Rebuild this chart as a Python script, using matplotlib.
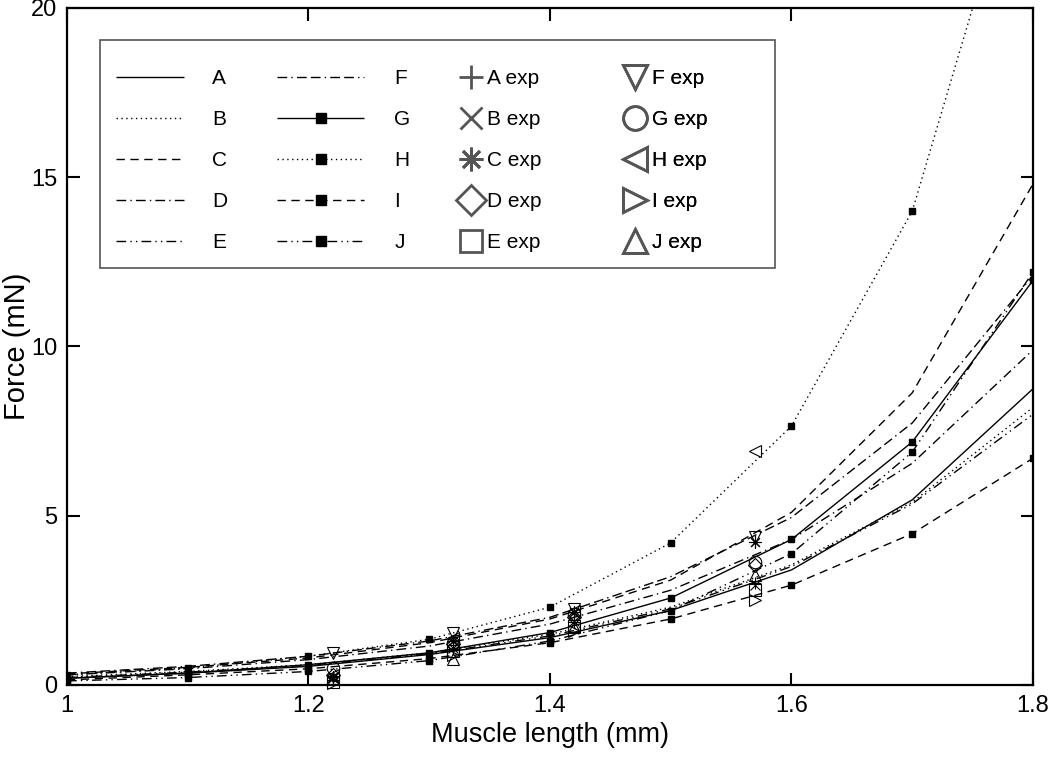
import matplotlib
matplotlib.use("Agg")
import matplotlib.pyplot as plt
from matplotlib.lines import Line2D
from matplotlib.patches import Rectangle

plt.rcParams['font.family'] = ['Liberation Sans', 'DejaVu Sans']

# ---- data ----
x_model = [1.0, 1.1, 1.2, 1.3, 1.4, 1.5, 1.6, 1.7, 1.8]
A = [0.20, 0.35, 0.55, 0.90, 1.40, 2.20, 3.40, 5.47, 8.75]
B = [0.25, 0.40, 0.60, 0.95, 1.50, 2.30, 3.55, 5.40, 8.20]
C = [0.33, 0.52, 0.80, 1.25, 1.95, 3.10, 5.10, 8.63, 14.80]
D = [0.30, 0.48, 0.75, 1.15, 1.80, 2.80, 4.30, 6.55, 9.90]
E = [0.22, 0.38, 0.58, 0.92, 1.45, 2.25, 3.50, 5.35, 8.00]
F = [0.35, 0.55, 0.85, 1.30, 2.00, 3.20, 4.95, 7.74, 12.10]
G = [0.20, 0.35, 0.60, 0.95, 1.55, 2.57, 4.30, 7.18, 11.95]
H = [0.30, 0.50, 0.85, 1.35, 2.30, 4.20, 7.65, 14.00, 26.00]
I = [0.15, 0.30, 0.48, 0.78, 1.25, 1.95, 2.95, 4.47, 6.70]
J = [0.12, 0.22, 0.40, 0.72, 1.30, 2.20, 3.88, 6.88, 12.20]

x_exp = [1.22, 1.32, 1.42, 1.57]
A_exp = [0.15, 1.05, 1.85, 3.00]
B_exp = [0.20, 1.10, 1.90, 2.95]
C_exp = [0.25, 1.30, 2.15, 4.22]
D_exp = [0.30, 1.20, 2.00, 3.55]
E_exp = [0.10, 1.00, 1.75, 2.80]
F_exp = [0.95, 1.55, 2.25, 4.37]
G_exp = [0.50, 1.25, 2.10, 3.63]
H_exp = [0.30, 1.40, 2.20, 6.90]
I_exp = [0.05, 0.90, 1.60, 2.50]
J_exp = [0.20, 0.78, 1.70, 3.25]

model_names = ['A', 'B', 'C', 'D', 'E', 'F', 'G', 'H', 'I', 'J']
model_data = [A, B, C, D, E, F, G, H, I, J]
exp_names = ['A exp', 'B exp', 'C exp', 'D exp', 'E exp',
             'F exp', 'G exp', 'H exp', 'I exp', 'J exp']
exp_data = [A_exp, B_exp, C_exp, D_exp, E_exp, F_exp, G_exp, H_exp, I_exp, J_exp]

x_ticks = [1.0, 1.2, 1.4, 1.6, 1.8]
x_ticklabels = ['1', '1.2', '1.4', '1.6', '1.8']
y_ticks = [0, 5, 10, 15, 20]
y_ticklabels = ['0', '5', '10', '15', '20']

# ---- styles ----
solid = (0, ())
dotted = (0, (1, 2.5))
dashed = (0, (6, 4))
dashdot = (0, (7, 3, 1, 3))
dashdotdot = (0, (7, 3, 1, 3, 1, 3))
dashdashdot = (0, (7, 3, 1, 3, 7, 3))
line_styles = [solid, dotted, dashed, dashdot, dashdotdot, dashdashdot,
               solid, dotted, dashed, dashdotdot]
has_marker = [False] * 6 + [True] * 4
asterisk = (8, 2, 0)
exp_markers = ['+', 'x', asterisk, 'D', 's', 'v', 'o', '<', '>', '^']
exp_sizes = [9, 7, 9, 7, 8, 9, 9, 9, 9, 9]

fig = plt.figure(figsize=(10.5, 7.6), dpi=100)
ax = fig.add_axes([0.0638, 0.0987, 0.92, 0.8908])

for name, data, ls, mk in zip(model_names, model_data, line_styles, has_marker):
    ax.plot(x_model, data, color='black', lw=1.0, linestyle=ls,
            marker='s' if mk else None, markersize=4.5, markerfacecolor='black',
            markeredgecolor='black')

for name, data, m, s in zip(exp_names, exp_data, exp_markers, exp_sizes):
    ax.plot(x_exp, data, linestyle='none', marker=m, markersize=s,
            markerfacecolor='none', markeredgecolor='black',
            markeredgewidth=0.8, clip_on=False, zorder=3)

ax.set_xlim(1.0, 1.8)
ax.set_ylim(0, 20)
ax.set_xticks(x_ticks)
ax.set_xticklabels(x_ticklabels)
ax.set_yticks(y_ticks)
ax.set_yticklabels(y_ticklabels)
ax.tick_params(direction='in', length=9, width=1.5, labelsize=17,
               top=True, right=True, pad=7)
for sp in ax.spines.values():
    sp.set_linewidth(1.6)
ax.set_xlabel('Muscle length (mm)', fontsize=19.5, labelpad=4)
ax.set_ylabel('Force (mN)', fontsize=21, labelpad=0)

# ---- legend ----
line_handles = []
for ls, mk in zip(line_styles, has_marker):
    line_handles.append(Line2D([], [], color='black', lw=1.0, linestyle=ls,
                               marker='s' if mk else None, markersize=7,
                               markerfacecolor='black', markeredgecolor='black'))
exp_handles = []
for m, s in zip(exp_markers, exp_sizes):
    exp_handles.append(Line2D([], [], linestyle='none', marker=m,
                              markersize=s * 1.9 if m not in ('x', 'D') else s * 2.2,
                              markerfacecolor='none', markeredgecolor='#555555',
                              markeredgewidth=2.0))

# four legend columns, each positioned separately
columns = [
    (line_handles[:5], model_names[:5], 0.0316, 3.27, 1.34),
    (line_handles[5:], model_names[5:], 0.1982, 4.18, 1.45),
    (exp_handles[:5], exp_names[:5], 0.386, 1.2, 0.15),
    (exp_handles[5:], exp_names[5:], 0.5559, 1.2, 0.2),
]
for hs, labs, xa, hl, tp in columns:
    lg = ax.legend(hs, labs, ncol=1, loc='upper left',
                   bbox_to_anchor=(xa, 0.937), frameon=False, fontsize=15,
                   handlelength=hl, handletextpad=tp, labelspacing=1.05)
    lg.set_zorder(5)
    ax.add_artist(lg)

ax.add_patch(Rectangle((0.034, 0.616), 0.699, 0.337, transform=ax.transAxes,
                       fill=True, facecolor='white', edgecolor='#555555',
                       lw=1.2, zorder=4))

fig.savefig('out.png', dpi=100)
